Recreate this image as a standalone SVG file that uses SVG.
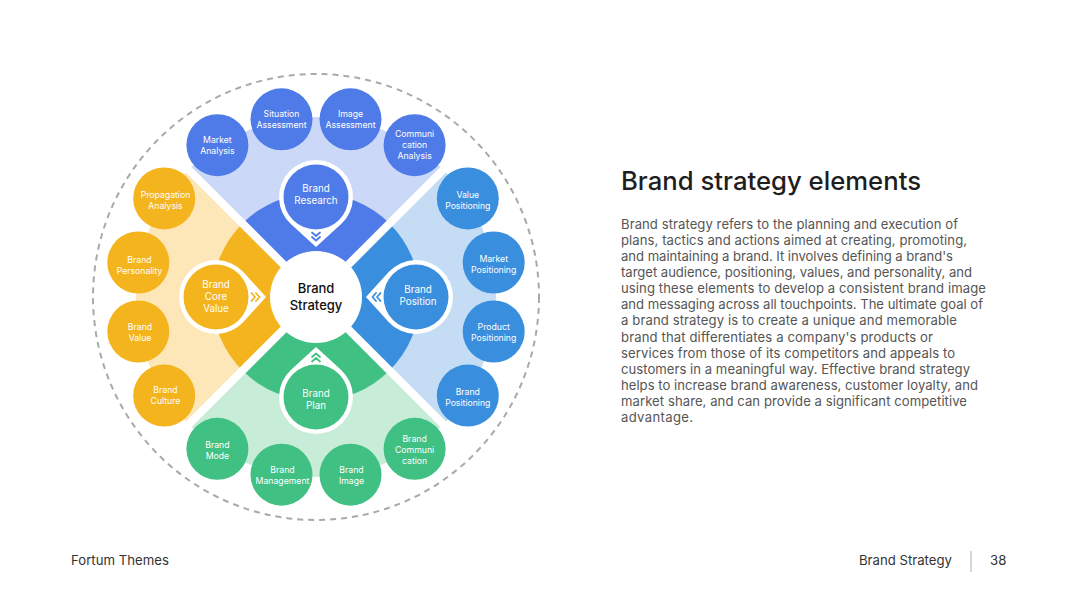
<svg xmlns="http://www.w3.org/2000/svg" width="1080" height="608" viewBox="0 0 1080 608">
<style>
.n{fill:#fff;font-family:Inter,"DejaVu Sans",sans-serif;font-size:8.7px;text-anchor:middle}
.ni{fill:#fff;font-family:Inter,"DejaVu Sans",sans-serif;font-size:9.8px;text-anchor:middle}
.chev{fill:none;stroke-width:1.8;stroke-linecap:round;stroke-linejoin:round}
.body{fill:#555;font-family:Inter,"DejaVu Sans",sans-serif;font-size:13.1px}
.foot{fill:#333;font-family:Inter,"DejaVu Sans",sans-serif;font-size:13.2px}
</style>
<defs>
<path id="tear" d="M50,0 L27.37,-24.9 A37,37 0 1 0 27.37,24.9 Z" fill="#fff"/>
<g id="chv"><polyline points="35.5,-4 39,0 35.5,4"/><polyline points="40,-4 43.5,0 40,4"/></g>
</defs>
<rect width="1080" height="608" fill="#fff"/>

<g id="background">
<circle cx="316" cy="297" r="223" fill="none" stroke="#a9a9a9" stroke-width="2" stroke-dasharray="6 5"/>
<path d="M316,297 L188.72,169.72 A180,180 0 0 1 443.28,169.72 Z" fill="#cbd8f8"/>
<path d="M316,297 L443.28,169.72 A180,180 0 0 1 443.28,424.28 Z" fill="#c4ddf4"/>
<path d="M316,297 L443.28,424.28 A180,180 0 0 1 188.72,424.28 Z" fill="#c7ecd8"/>
<path d="M316,297 L188.72,424.28 A180,180 0 0 1 188.72,169.72 Z" fill="#fde6b8"/>
<path d="M316,297 L242.46,223.46 A104,104 0 0 1 389.54,223.46 Z" fill="#4f7be8"/>
<path d="M316,297 L389.54,223.46 A104,104 0 0 1 389.54,370.54 Z" fill="#3a8ede"/>
<path d="M316,297 L389.54,370.54 A104,104 0 0 1 242.46,370.54 Z" fill="#40c083"/>
<path d="M316,297 L242.46,370.54 A104,104 0 0 1 242.46,223.46 Z" fill="#f4b41e"/>
<line x1="185" y1="166" x2="447" y2="428" stroke="#fff" stroke-width="8"/>
<line x1="447" y1="166" x2="185" y2="428" stroke="#fff" stroke-width="8"/>
</g>

<g id="center">
<circle cx="316" cy="297" r="46" fill="#fff"/>
<text x="316" y="292.5" font-family="Inter,'DejaVu Sans',sans-serif" font-size="13" font-weight="500" fill="#111" text-anchor="middle">Brand</text>
<text x="316" y="310" font-family="Inter,'DejaVu Sans',sans-serif" font-size="13" font-weight="500" fill="#111" text-anchor="middle">Strategy</text>
</g>

<!-- inner nodes -->
<g id="brand-research">
<use href="#tear" transform="translate(316,197) rotate(90)"/>
<circle cx="316" cy="197" r="32.5" fill="#4f7be8"/>
<text class="ni" x="316" y="192">Brand</text><text class="ni" x="316" y="204">Research</text>
</g>
<g id="brand-position">
<use href="#tear" transform="translate(416,297) rotate(180)"/>
<circle cx="416" cy="297" r="32.5" fill="#3a8ede"/>
<text class="ni" x="418" y="292.5">Brand</text><text class="ni" x="418" y="304.5">Position</text>
</g>
<g id="brand-plan">
<use href="#tear" transform="translate(316,397) rotate(-90)"/>
<circle cx="316" cy="397" r="32.5" fill="#40c083"/>
<text class="ni" x="316" y="396.5">Brand</text><text class="ni" x="316" y="408.5">Plan</text>
</g>
<g id="brand-core-value">
<use href="#tear" transform="translate(216,297)"/>
<circle cx="216" cy="297" r="32.5" fill="#f4b41e"/>
<text class="ni" x="216" y="287.5">Brand</text><text class="ni" x="216" y="299.5">Core</text><text class="ni" x="216" y="311.5">Value</text>
</g>

<g id="connectors">
<use href="#chv" class="chev" stroke="#4f7be8" transform="translate(316,197) rotate(90)"/>
<use href="#chv" class="chev" stroke="#3a8ede" transform="translate(416,297) rotate(180)"/>
<use href="#chv" class="chev" stroke="#40c083" transform="translate(316,397) rotate(-90)"/>
<use href="#chv" class="chev" stroke="#f4b41e" transform="translate(216,297)"/>
</g>

<!-- top outer -->
<g id="market-analysis"><circle cx="217.4" cy="145.2" r="31" fill="#4f7be8"/><text class="n" x="217.4" y="142.6">Market</text><text class="n" x="217.4" y="153.6">Analysis</text></g>
<g id="situation-assessment"><circle cx="281.5" cy="119.3" r="31" fill="#4f7be8"/><text class="n" x="281.5" y="116.7">Situation</text><text class="n" x="281.5" y="127.7">Assessment</text></g>
<g id="image-assessment"><circle cx="350.5" cy="119.3" r="31" fill="#4f7be8"/><text class="n" x="350.5" y="116.7">Image</text><text class="n" x="350.5" y="127.7">Assessment</text></g>
<g id="communication-analysis"><circle cx="414.6" cy="145.2" r="31" fill="#4f7be8"/><text class="n" x="414.6" y="137.2">Communi</text><text class="n" x="414.6" y="148.2">cation</text><text class="n" x="414.6" y="159.2">Analysis</text></g>

<!-- right outer -->
<g id="value-positioning"><circle cx="467.8" cy="198.4" r="31" fill="#3a8ede"/><text class="n" x="467.8" y="197.8">Value</text><text class="n" x="467.8" y="208.8">Positioning</text></g>
<g id="market-positioning"><circle cx="493.7" cy="262.5" r="31" fill="#3a8ede"/><text class="n" x="493.7" y="261.9">Market</text><text class="n" x="493.7" y="272.9">Positioning</text></g>
<g id="product-positioning"><circle cx="493.7" cy="331.5" r="31" fill="#3a8ede"/><text class="n" x="493.7" y="329.9">Product</text><text class="n" x="493.7" y="340.9">Positioning</text></g>
<g id="brand-positioning"><circle cx="467.8" cy="395.6" r="31" fill="#3a8ede"/><text class="n" x="467.8" y="394.9">Brand</text><text class="n" x="467.8" y="405.9">Positioning</text></g>

<!-- bottom outer -->
<g id="brand-mode"><circle cx="217.4" cy="448.8" r="31" fill="#40c083"/><text class="n" x="217.4" y="447.6">Brand</text><text class="n" x="217.4" y="458.6">Mode</text></g>
<g id="brand-management"><circle cx="281.5" cy="474.7" r="31" fill="#40c083"/><text class="n" x="282.5" y="472.6">Brand</text><text class="n" x="282.5" y="483.6">Management</text></g>
<g id="brand-image"><circle cx="350.5" cy="474.7" r="31" fill="#40c083"/><text class="n" x="351.5" y="472.6">Brand</text><text class="n" x="351.5" y="483.6">Image</text></g>
<g id="brand-communication"><circle cx="414.6" cy="448.8" r="31" fill="#40c083"/><text class="n" x="414.6" y="441.6">Brand</text><text class="n" x="414.6" y="452.6">Communi</text><text class="n" x="414.6" y="463.6">cation</text></g>

<!-- left outer -->
<g id="propagation-analysis"><circle cx="164.2" cy="198.4" r="31" fill="#f4b41e"/><text class="n" x="165.5" y="197.8">Propagation</text><text class="n" x="165.5" y="208.8">Analysis</text></g>
<g id="brand-personality"><circle cx="138.3" cy="262.5" r="31" fill="#f4b41e"/><text class="n" x="139.5" y="262.6">Brand</text><text class="n" x="139.5" y="273.6">Personality</text></g>
<g id="brand-value"><circle cx="138.3" cy="331.5" r="31" fill="#f4b41e"/><text class="n" x="140" y="329.6">Brand</text><text class="n" x="140" y="340.6">Value</text></g>
<g id="brand-culture"><circle cx="164.2" cy="395.6" r="31" fill="#f4b41e"/><text class="n" x="165.5" y="392.6">Brand</text><text class="n" x="165.5" y="403.6">Culture</text></g>

<g id="text-panel">
<text x="621" y="190" font-family="Inter,'DejaVu Sans',sans-serif" font-size="25.5" font-weight="500" fill="#1e1e1e" textLength="300" lengthAdjust="spacingAndGlyphs">Brand strategy elements</text>
<text class="body" x="621" y="228.5" textLength="337">Brand strategy refers to the planning and execution of</text>
<text class="body" x="621" y="244.6" textLength="346">plans, tactics and actions aimed at creating, promoting,</text>
<text class="body" x="621" y="260.8" textLength="332">and maintaining a brand. It involves defining a brand's</text>
<text class="body" x="621" y="276.9" textLength="351">target audience, positioning, values, and personality, and</text>
<text class="body" x="621" y="293.1" textLength="365">using these elements to develop a consistent brand image</text>
<text class="body" x="621" y="309.2" textLength="362">and messaging across all touchpoints. The ultimate goal of</text>
<text class="body" x="621" y="325.3" textLength="336">a brand strategy is to create a unique and memorable</text>
<text class="body" x="621" y="341.5" textLength="312">brand that differentiates a company's products or</text>
<text class="body" x="621" y="357.6" textLength="334">services from those of its competitors and appeals to</text>
<text class="body" x="621" y="373.8" textLength="349">customers in a meaningful way. Effective brand strategy</text>
<text class="body" x="621" y="389.9" textLength="357">helps to increase brand awareness, customer loyalty, and</text>
<text class="body" x="621" y="406.0" textLength="346">market share, and can provide a significant competitive</text>
<text class="body" x="621" y="422.2" textLength="72">advantage.</text>
</g>

<g id="footer">
<text class="foot" x="71" y="565">Fortum Themes</text>
<text class="foot" x="952" y="565" text-anchor="end">Brand Strategy</text>
<line x1="971" y1="551" x2="971" y2="572" stroke="#bbb" stroke-width="1.2"/>
<text class="foot" x="990" y="565">38</text>
</g>
</svg>
